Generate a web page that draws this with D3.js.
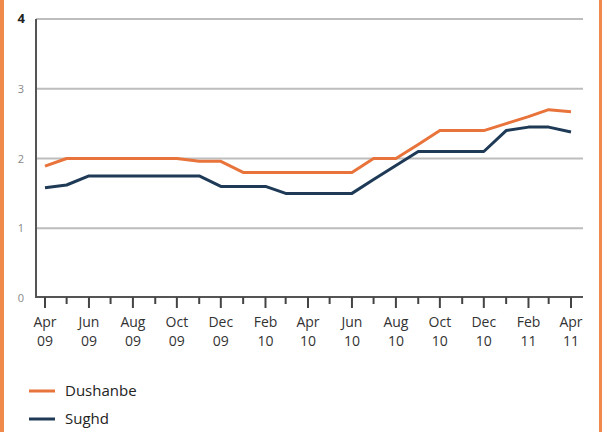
<!DOCTYPE html>
<html>
<head>
<meta charset="utf-8">
<script src="https://cdn.jsdelivr.net/npm/d3@7"></script>
<style>
  body { margin: 0; background: #fff; }
  svg { display: block; font-family: "Open Sans", "Liberation Sans", sans-serif; }
</style>
</head>
<body>
<div id="chart"></div>
<script>
// monthly, Apr 2009 .. Apr 2011
const months = d3.timeMonths(new Date(2009, 3, 1), new Date(2011, 4, 1));
const dushanbe = [1.89, 2.0, 2.0, 2.0, 2.0, 2.0, 2.0, 1.96, 1.96, 1.8, 1.8, 1.8, 1.8, 1.8, 1.8,
  2.0, 2.0, 2.2, 2.4, 2.4, 2.4, 2.5, 2.6, 2.7, 2.67];
const sughd = [1.58, 1.62, 1.75, 1.75, 1.75, 1.75, 1.75, 1.75, 1.6, 1.6, 1.6, 1.5, 1.5, 1.5, 1.5,
  1.7, 1.9, 2.1, 2.1, 2.1, 2.1, 2.4, 2.45, 2.45, 2.38];
const yTicks = [0, 1, 2, 3, 4];
const seriesNames = ["Dushanbe", "Sughd"];
const seriesColors = ["#e8743b", "#1e3a56"];

const W = 603, H = 432;
const svg = d3.select("#chart").append("svg").attr("width", W).attr("height", H);

// orange frame edges
svg.append("rect").attr("x", 0).attr("y", 0).attr("width", 4).attr("height", H).attr("fill", "#ef8a4c");
svg.append("rect").attr("x", 599).attr("y", 0).attr("width", 3).attr("height", H).attr("fill", "#ef8a4c");

const x = d3.scaleTime()
  .domain([months[0], months[months.length - 1]])
  .range([45, 571]);
const y = d3.scaleLinear().domain([0, 4]).range([298, 19]);

// gridlines
svg.append("g")
  .selectAll("line")
  .data(yTicks.slice(1))
  .join("line")
  .attr("x1", 36).attr("x2", 583)
  .attr("y1", d => y(d)).attr("y2", d => y(d))
  .attr("stroke", "#bdbdbd")
  .attr("stroke-width", 2);

// y labels
svg.append("g")
  .selectAll("text")
  .data(yTicks)
  .join("text")
  .attr("x", d => d == 4 ? 25 : 24)
  .attr("y", d => y(d) + 4)
  .attr("text-anchor", "end")
  .style("font-size", d => d == 4 ? "13px" : "11px")
  .style("font-weight", d => d == 4 ? "bold" : "normal")
  .attr("fill", d => d == 4 ? "#222" : "#888")
  .text(d => d);

// axes lines
svg.append("line").attr("x1", 36).attr("x2", 36).attr("y1", 19).attr("y2", 298)
  .attr("stroke", "#555").attr("stroke-width", 2);
svg.append("line").attr("x1", 35).attr("x2", 583).attr("y1", 297).attr("y2", 297)
  .attr("stroke", "#555").attr("stroke-width", 2);

// month ticks
const ticks = svg.append("g");
ticks.selectAll("line")
  .data(months)
  .join("line")
  .attr("x1", d => x(d)).attr("x2", d => x(d))
  .attr("y1", 297)
  .attr("y2", (d, i) => i % 2 == 0 ? 308 : 304)
  .attr("stroke", "#444")
  .attr("stroke-width", 2);

const fmtM = d3.timeFormat("%b"), fmtY = d3.timeFormat("%y");
const labels = ticks.selectAll("text")
  .data(months.filter((d, i) => i % 2 == 0))
  .join("text")
  .attr("text-anchor", "middle")
  .attr("fill", "#333")
  .style("font-size", "14px");
labels.append("tspan").attr("x", d => x(d)).attr("y", 327).text(fmtM);
labels.append("tspan").attr("x", d => x(d)).attr("y", 346).text(fmtY);

// lines
const line = d3.line().x((d, i) => x(months[i])).y(d => y(d));
[dushanbe, sughd].forEach((s, k) => {
  svg.append("path")
    .datum(s)
    .attr("d", line)
    .attr("fill", "none")
    .attr("stroke", seriesColors[k])
    .attr("stroke-width", 3)
    .attr("stroke-linejoin", "round");
});

// legend
const legend = svg.append("g").selectAll("g")
  .data(seriesNames)
  .join("g")
  .attr("transform", (d, i) => `translate(29,${391 + i * 28})`);
legend.append("line")
  .attr("x1", 0).attr("x2", 26)
  .attr("stroke", (d, i) => seriesColors[i])
  .attr("stroke-width", 3);
legend.append("text")
  .attr("x", 36).attr("y", 5)
  .attr("fill", "#222")
  .style("font-size", "15px")
  .text(d => d);
</script>
</body>
</html>
